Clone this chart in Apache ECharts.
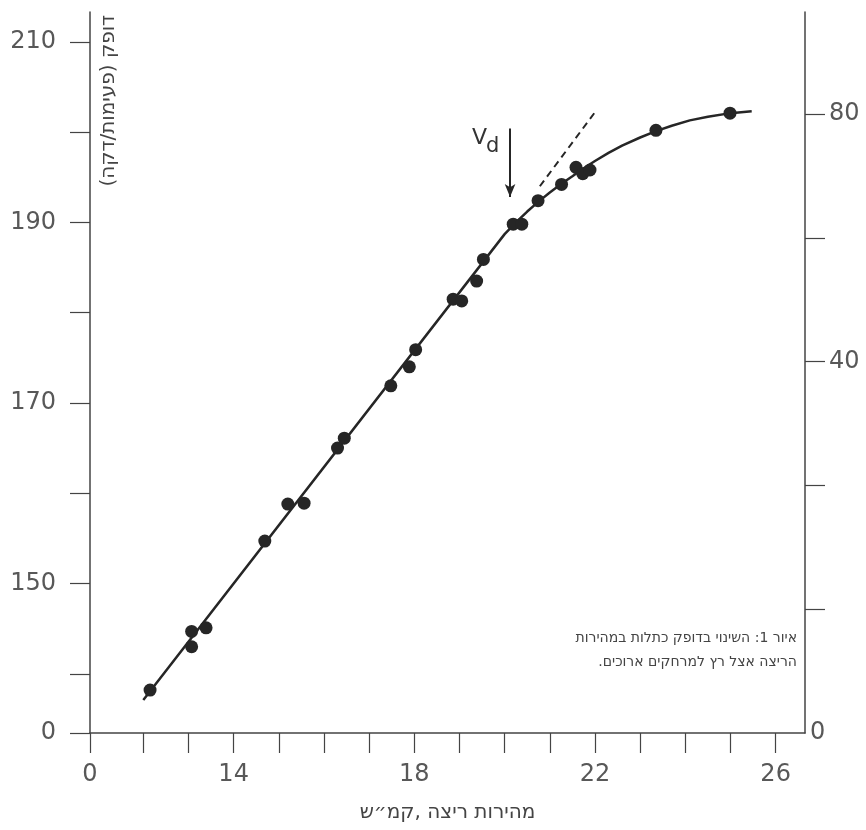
<!DOCTYPE html>
<html>
<head>
<meta charset="utf-8">
<script src="https://cdn.jsdelivr.net/npm/echarts@6/dist/echarts.min.js"></script>
<style>
  html, body { margin: 0; padding: 0; background: #fff; }
  #main { width: 866px; height: 830px; }
</style>
</head>
<body>
<div id="main" dir="rtl"></div>
<script>
// measured heart rate points (speed km/h, bpm)
const HR_X = [12.15, 13.07, 13.07, 13.39, 14.69, 15.20, 15.56, 16.30, 16.45, 17.48, 17.89, 18.03,
  18.86, 19.05, 19.38, 19.53, 20.19, 20.38, 20.74, 21.26, 21.58, 21.73, 21.89, 23.35, 24.99]
const HR_Y = [138.2, 143.0, 144.7, 145.1, 154.7, 158.8, 158.9, 165.0, 166.1, 171.9, 174.0, 175.9,
  181.5, 181.3, 183.5, 185.9, 189.8, 189.8, 192.4, 194.2, 196.1, 195.4, 195.8, 200.2, 202.1]

// fitted curve
const CURVE_X = [12.0, 20.0, 20.25, 20.5, 20.75, 21.0, 21.25, 21.5, 21.75, 22.0, 22.3, 22.6,
  23.0, 23.35, 23.7, 24.1, 24.5, 25.0, 25.47]
const CURVE_Y = [137.1, 188.7, 190.0, 191.2, 192.3, 193.3, 194.25, 195.1, 196.0, 196.8, 197.7, 198.5,
  199.4, 200.1, 200.7, 201.3, 201.7, 202.1, 202.3]

// dashed extension of the linear part
const DASH_X = [20.78, 22.0]
const DASH_Y = [194.0, 202.2]

// deflection point arrow (Vd)
const VD_X = 20.12
const VD_Y = [200.4, 192.8]

// axis ticks and labels
const X_TICKS = [12, 13, 14, 15, 16, 17, 18, 19, 20, 21, 22, 23, 24, 25, 26]
const X_LABELS = [14, 18, 22, 26]
const Y_TICKS = [140, 150, 160, 170, 180, 190, 200, 210]
const Y_LABELS = [150, 170, 190, 210]
const R_TICKS = [0, 20, 40, 60, 80]
const R_LABELS = [40, 80]

// broken axes: the lowest value is labelled 0
const XMIN = 10.82, XMAX = 26.65
const YMIN = 133.45, YMAX = 213.3
const RMIN = -20, RMAX = 96.5

const INK = '#262626'
const AXIS = '#444'
const TXT = '#585858'
const FONT = 'DejaVu Sans'

const chart = echarts.init(document.getElementById('main'))

chart.setOption({
  animation: false,
  backgroundColor: '#fff',
  grid: { left: 90, right: 61, top: 12, bottom: 97, outerBoundsMode: 'none' },
  xAxis: {
    type: 'value',
    min: XMIN,
    max: XMAX,
    splitLine: { show: false },
    axisLine: { onZero: false, lineStyle: { color: AXIS, width: 1.5 } },
    axisTick: { customValues: [XMIN].concat(X_TICKS), length: 20, lineStyle: { color: AXIS, width: 1.2 } },
    axisLabel: {
      customValues: [XMIN].concat(X_LABELS),
      formatter: v => v < 11 ? '0' : String(v),
      margin: 30,
      color: TXT, fontSize: 24, fontFamily: FONT
    },
    name: 'מהירות ריצה ,קמ״ש',
    nameLocation: 'middle',
    nameGap: 70,
    nameTextStyle: { color: '#444', fontSize: 20, fontFamily: FONT }
  },
  yAxis: [
    {
      type: 'value',
      min: YMIN,
      max: YMAX,
      splitLine: { show: false },
      axisLine: { show: true, onZero: false, lineStyle: { color: AXIS, width: 1.5 } },
      axisTick: { show: true, customValues: [YMIN].concat(Y_TICKS), length: 20, lineStyle: { color: AXIS, width: 1.2 } },
      axisLabel: {
        customValues: [YMIN].concat(Y_LABELS),
        formatter: v => v < 135 ? '0' : String(v),
        margin: 34,
        color: TXT, fontSize: 24, fontFamily: FONT
      }
    },
    {
      type: 'value',
      position: 'right',
      min: RMIN,
      max: RMAX,
      splitLine: { show: false },
      axisLine: { show: true, onZero: false, lineStyle: { color: AXIS, width: 1.5 } },
      axisTick: { show: true, customValues: R_TICKS, length: 20, lineStyle: { color: AXIS, width: 1.2 } },
      axisLabel: {
        customValues: [RMIN].concat(R_LABELS),
        formatter: v => v === RMIN ? '{z|0}' : '{p|' + v + '}',
        margin: 5,
        rich: {
          z: { color: TXT, fontSize: 24, fontFamily: FONT },
          p: { color: TXT, fontSize: 24, fontFamily: FONT, padding: [0, 0, 0, 19] }
        }
      }
    }
  ],
  series: [
    {
      type: 'line',
      data: CURVE_X.map((x, i) => [x, CURVE_Y[i]]),
      showSymbol: false,
      lineStyle: { color: INK, width: 2.5, join: 'round' },
      silent: true,
      z: 2
    },
    {
      type: 'line',
      data: DASH_X.map((x, i) => [x, DASH_Y[i]]),
      showSymbol: false,
      lineStyle: { color: INK, width: 2, type: [7, 5] },
      silent: true,
      z: 2,
      markLine: {
        silent: true,
        symbol: ['none', 'arrow'],
        symbolSize: [8, 13],
        label: { show: false },
        lineStyle: { color: INK, width: 2, type: 'solid' },
        data: [[{ coord: [VD_X, VD_Y[0]] }, { coord: [VD_X, VD_Y[1]] }]]
      }
    },
    {
      type: 'scatter',
      data: HR_X.map((x, i) => [x, HR_Y[i]]),
      symbolSize: 13,
      itemStyle: { color: INK, opacity: 1 },
      z: 3
    }
  ],
  graphic: [
    {
      type: 'text',
      x: 109, y: 15,
      rotation: Math.PI / 2,
      style: { text: 'דופק (פעימות/דקה)', fill: '#444', font: '20px "DejaVu Sans"', align: 'right', verticalAlign: 'middle' }
    },
    {
      type: 'text',
      x: 472, y: 127,
      style: { text: 'V', fill: '#333', font: '22px "DejaVu Sans"' }
    },
    {
      type: 'text',
      x: 486, y: 136,
      style: { text: 'd', fill: '#333', font: '21px "DejaVu Sans"' }
    },
    {
      type: 'text',
      x: 797, y: 626,
      style: {
        text: 'איור 1: השינוי בדופק כתלות במהירות\nהריצה אצל רץ למרחקים ארוכים.',
        fill: '#444', font: '14px "DejaVu Sans"', align: 'right', lineHeight: 24
      }
    }
  ]
})
</script>
</body>
</html>
